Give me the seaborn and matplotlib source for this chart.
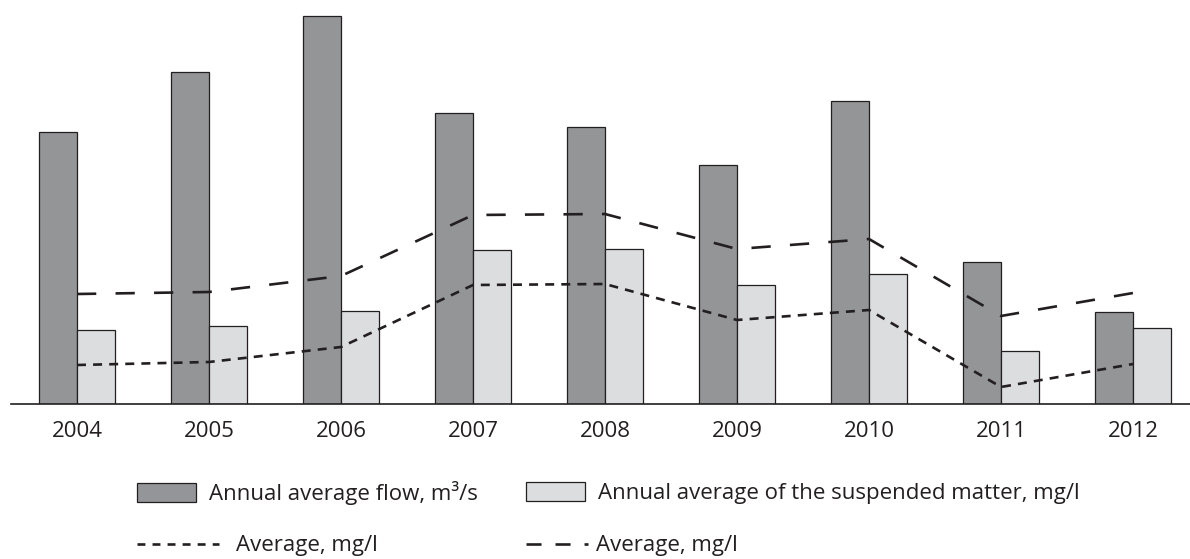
import numpy as np
import pandas as pd
import matplotlib
matplotlib.use("Agg")
import matplotlib.pyplot as plt
from matplotlib.patches import Patch
from matplotlib.lines import Line2D
import seaborn as sns

years = ["2004", "2005", "2006", "2007", "2008", "2009", "2010", "2011", "2012"]
flow = [272, 332, 388, 291, 277, 239, 303, 142, 92]
suspended = [74, 78, 93, 154, 155, 119, 130, 53, 76]
avg_short = [39, 42, 57, 119, 120, 84, 94, 17, 40]
avg_long = [110, 112, 128, 189, 190, 155, 165, 88, 111]

lbl_flow = "Annual average flow, m\u00b3/s"
lbl_susp = "Annual average of the suspended matter, mg/l"
lbl_avg = "Average, mg/l"

DARK = "#939598"
LIGHT = "#dcdddf"
EDGE = "#231f20"

sns.set_theme(style="white")
plt.rcParams["font.family"] = ["Open Sans", "DejaVu Sans"]

fig = plt.figure(figsize=(11.9, 5.59), dpi=100)
ax = fig.add_axes([11 / 1190, 155 / 559, 1 - 11 / 1190, 404 / 559])

df = pd.DataFrame({
    "year": years * 2,
    "value": flow + suspended,
    "series": [lbl_flow] * len(years) + [lbl_susp] * len(years),
})
sns.barplot(data=df, x="year", y="value", hue="series",
            palette=[DARK, LIGHT], width=0.576, gap=0,
            edgecolor=EDGE, linewidth=0.9, ax=ax, legend=False)

LW = 1.9
pos = np.arange(len(years))
sns.lineplot(x=pos, y=avg_short, ax=ax, color=EDGE, lw=LW,
             linestyle=(0, (3.4, 2.7)), legend=False)
sns.lineplot(x=pos, y=avg_long, ax=ax, color=EDGE, lw=LW,
             linestyle=(0, (7.3, 7.3)), legend=False)

ax.set_xlim(-0.5, (1190 - 77) / 132)
ax.set_ylim(0, 404)
ax.set_xticks(pos, labels=years)
ax.set_yticks([])
ax.set_xlabel("")
ax.set_ylabel("")
for s in ["top", "left", "right"]:
    ax.spines[s].set_visible(False)
ax.spines["bottom"].set_color(EDGE)
ax.spines["bottom"].set_linewidth(1.2)

FS = 16
ax.tick_params(axis="x", length=0, pad=12, labelsize=FS, colors="#231f20")
em = FS * 100 / 72.0


def add_leg(handle, label, x_px, y_px, hlen_px, hh_px=None, pad_px=14):
    kw = {}
    if hh_px is not None:
        kw["handleheight"] = hh_px / em
    fig.legend([handle], [label], loc="center left",
               bbox_to_anchor=(x_px / 1190, 1 - y_px / 559),
               frameon=False, fontsize=FS, borderpad=0, borderaxespad=0,
               handlelength=hlen_px / em, handletextpad=pad_px / em,
               labelcolor="#231f20", **kw)


add_leg(Patch(facecolor=DARK, edgecolor=EDGE, linewidth=0.9), lbl_flow,
        137, 493, 59, 20, 13)
add_leg(Patch(facecolor=LIGHT, edgecolor=EDGE, linewidth=0.9), lbl_susp,
        526, 493, 59, 20, 13)
add_leg(Line2D([], [], color=EDGE, lw=LW, linestyle=(0, (3.0, 2.7))),
        lbl_avg, 137, 546, 82, None, 17)
add_leg(Line2D([], [], color=EDGE, lw=LW, linestyle=(0, (5.7, 5.3))),
        lbl_avg, 526, 546, 62, None, 8)

fig.savefig("out.png", dpi=100)
